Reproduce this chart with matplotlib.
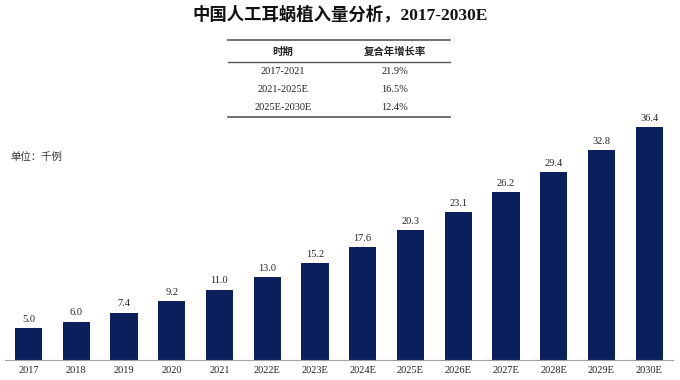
import matplotlib.pyplot as plt
from matplotlib.lines import Line2D

years = ["2017", "2018", "2019", "2020", "2021", "2022E", "2023E", "2024E",
         "2025E", "2026E", "2027E", "2028E", "2029E", "2030E"]
implants = [5.0, 6.0, 7.4, 9.2, 11.0, 13.0, 15.2, 17.6, 20.3, 23.1, 26.2, 29.4, 32.8, 36.4]

periods = ["2017-2021", "2021-2025E", "2025E-2030E"]
cagr = ["21.9%", "16.5%", "12.4%"]

SERIF = ["Liberation Serif", "Noto Sans CJK SC"]
CJK = ["Noto Sans CJK SC", "DejaVu Sans"]
NAVY = "#0b1f5c"

fig = plt.figure(figsize=(6.8, 3.8), dpi=100)
ax = fig.add_axes([4.6 / 680, 20 / 380, 668.4 / 680, 256 / 380])

x = range(len(years))
bars = ax.bar(x, implants, width=0.57, color=NAVY)
for xi, v in zip(x, implants):
    ax.annotate(f"{v:.1f}", (xi, v), xytext=(0, 3), textcoords="offset points",
                ha="center", va="bottom", fontsize=7.5, family=SERIF, color="#222222")

ax.set_xlim(-0.5, len(years) - 0.5)
ax.set_ylim(0, 40)
ax.set_xticks(list(x))
ax.set_xticklabels(years, family=SERIF, fontsize=7.5, color="#222222")
ax.tick_params(axis="x", length=0, pad=4)
ax.set_yticks([])
for s in ["top", "right", "left"]:
    ax.spines[s].set_visible(False)
ax.spines["bottom"].set_color("#a0a0a0")
ax.spines["bottom"].set_linewidth(0.8)

# title
fig.text(340 / 680, 1 - 15 / 380, "中国人工耳蜗植入量分析，2017-2030E", ha="center", va="center",
         fontsize=12.5, fontweight="bold", family=SERIF, color="#111111")

# unit
fig.text(10 / 680, 1 - 157 / 380, "单位：千例", ha="left", va="center",
         fontsize=7.5, family=CJK, color="#333333")

# CAGR table
def fy(py):
    return 1 - py / 380

x0, x1 = 228 / 680, 450 / 680
for py, lw in [(40, 1.2), (62, 1.0), (117, 1.2)]:
    fig.add_artist(Line2D([x0, x1], [fy(py), fy(py)], color="#555555", lw=lw,
                          transform=fig.transFigure))
c1, c2 = 283 / 680, 395 / 680
fig.text(c1, fy(52), "时期", ha="center", va="center", fontsize=7.5,
         fontweight="bold", family=CJK, color="#222222")
fig.text(c2, fy(52), "复合年增长率", ha="center", va="center", fontsize=7.5,
         fontweight="bold", family=CJK, color="#222222")
for i, (p, g) in enumerate(zip(periods, cagr)):
    py = 71 + i * 18.5
    fig.text(c1, fy(py), p, ha="center", va="center", fontsize=7.5, family=SERIF, color="#222222")
    fig.text(c2, fy(py), g, ha="center", va="center", fontsize=7.5, family=SERIF, color="#222222")

fig.savefig("out.png", dpi=100)
